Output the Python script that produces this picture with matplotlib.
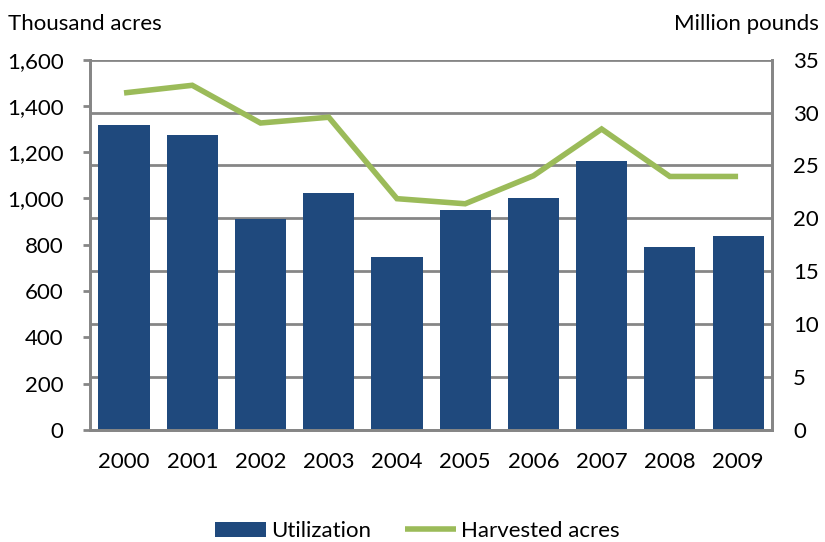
import matplotlib.pyplot as plt
import numpy as np

plt.rcParams['font.family'] = ['Lato', 'DejaVu Sans']

years = ['2000', '2001', '2002', '2003', '2004', '2005', '2006', '2007', '2008', '2009']
# Utilization, million pounds (right axis)
utilization = [28.8, 27.9, 19.9, 22.4, 16.3, 20.8, 21.9, 25.4, 17.3, 18.3]
# Harvested acres, thousand acres (left axis)
harvested = [1456, 1489, 1326, 1351, 999, 977, 1098, 1300, 1095, 1095]

left_ticks = [0, 200, 400, 600, 800, 1000, 1200, 1400, 1600]
right_ticks = [0, 5, 10, 15, 20, 25, 30, 35]

bar_color = '#1F497D'
line_color = '#9BBB59'
grid_color = '#868686'
fs = 16

fig = plt.figure(figsize=(8.25, 5.42), dpi=100)
ax = fig.add_axes([0.109, 0.207, 0.827, 0.683])

x = np.arange(len(years))

# bars on the million-pounds axis, shown on the right
bars = ax.bar(x, utilization, width=0.75, color=bar_color, label='Utilization', zorder=2)
ax.set_ylim(0, 35)
ax.set_yticks(right_ticks)
ax.set_axisbelow(True)
ax.grid(axis='y', color=grid_color, linewidth=2)
ax.set_xlim(-0.5, len(years) - 0.5)
ax.set_xticks(x)
ax.set_xticklabels(years)

# line on the thousand-acres axis, shown on the left
ax2 = ax.twinx()
line, = ax2.plot(x, harvested, color=line_color, linewidth=4, label='Harvested acres',
                 solid_capstyle='butt', solid_joinstyle='miter')
ax2.set_ylim(0, 1600)
ax2.set_yticks(left_ticks)
ax2.set_yticklabels(['{:,}'.format(v) for v in left_ticks])
ax2.yaxis.tick_left()
ax.yaxis.tick_right()  # after twinx, which moves it back

for a in (ax, ax2):
    a.spines['top'].set_visible(False)
    for s in ('left', 'right', 'bottom'):
        a.spines[s].set_color(grid_color)
        a.spines[s].set_linewidth(2)

ax.tick_params(axis='y', length=0, labelsize=fs, pad=15)
ax.tick_params(axis='x', length=0, labelsize=fs, pad=16)
ax2.tick_params(axis='y', length=5, width=2, color=grid_color, labelsize=fs, pad=14)

fig.text(0.01, 0.955, 'Thousand acres', fontsize=fs, ha='left', va='center')
fig.text(0.992, 0.955, 'Million pounds', fontsize=fs, ha='right', va='center')

fig.legend([bars, line], ['Utilization', 'Harvested acres'], loc='center',
           bbox_to_anchor=(0.506, 0.02), ncol=2, frameon=False, fontsize=fs,
           handlelength=2.3, columnspacing=1.5, handletextpad=0.25)

fig.savefig('out.png', dpi=100)
